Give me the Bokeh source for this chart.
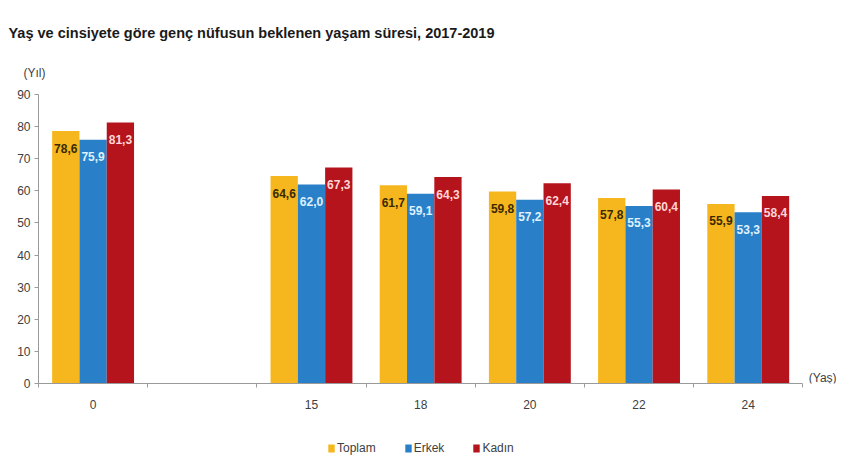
from bokeh.plotting import figure
from bokeh.layouts import column
from bokeh.models import (Range1d, LinearAxis, FixedTicker, ColumnDataSource, Legend, LegendItem, Title)
from bokeh.core.properties import value
from bokeh.embed import file_html
from bokeh.resources import INLINE

# ---- data ----
title_text = "Yaş ve cinsiyete göre genç nüfusun beklenen yaşam süresi, 2017-2019"
y_unit = "(Yıl)"
x_unit = "(Yaş)"
ages = ["0", "15", "18", "20", "22", "24"]
factors = ["0", "", "15", "18", "20", "22", "24"]   # blank slot between 0 and 15
series_names = ["Toplam", "Erkek", "Kadın"]
toplam = [78.6, 64.6, 61.7, 59.8, 57.8, 55.9]
erkek = [75.9, 62.0, 59.1, 57.2, 55.3, 53.3]
kadin = [81.3, 67.3, 64.3, 62.4, 60.4, 58.4]
y_ticks = list(range(0, 100, 10))

colors = ["#F6B71E", "#2A80C8", "#B5141C"]
label_colors = ["#3a2a00", "#dff0ff", "#ffd6d6"]
FONT = "Liberation Sans"
GREY = "#404040"
AXIS = "#9a9a9a"
W = 850


def fmt(v):
    return f"{v:.1f}".replace(".", ",")


def bare(fig):
    fig.outline_line_color = None
    fig.xgrid.grid_line_color = None
    fig.ygrid.grid_line_color = None
    fig.background_fill_color = "white"
    fig.border_fill_color = "white"


n_slots = len(factors)
centres = [factors.index(a) + 0.5 for a in ages]

# ---------- header strip: title and y unit (as plot titles) ----------
top = figure(width=W, height=86, x_range=Range1d(0, 1), y_range=Range1d(0, 1),
             output_backend="svg", toolbar_location=None,
             x_axis_location=None, y_axis_location=None,
             min_border_left=38, min_border_right=4, min_border_top=80, min_border_bottom=0)
bare(top)
top.title = Title(text=title_text, align="left", offset=-30, standoff=43,
                  text_font=FONT, text_font_size="14.5px", text_font_style="bold",
                  text_color="#1a1a1a")
top.add_layout(Title(text=y_unit, align="left", offset=-15, standoff=2,
                     text_font=FONT, text_font_size="12px", text_font_style="normal",
                     text_color=GREY), "above")

# ---------- main chart ----------
p = figure(width=W, height=331, x_range=Range1d(0, n_slots + 0.4),
           y_range=Range1d(0, 90), output_backend="svg", toolbar_location=None,
           x_axis_location=None, y_axis_location=None,
           min_border_left=38, min_border_right=4, min_border_top=8, min_border_bottom=34)
bare(p)
p.title.text_font_size = "0px"
p.title.standoff = 0

yaxis = LinearAxis(ticker=FixedTicker(ticks=y_ticks))
yaxis.axis_line_color = AXIS
yaxis.major_tick_line_color = AXIS
yaxis.major_tick_out = 4
yaxis.major_tick_in = 0
yaxis.minor_tick_line_color = None
yaxis.major_label_standoff = 4
yaxis.major_label_text_font = FONT
yaxis.major_label_text_font_size = "12px"
yaxis.major_label_text_color = GREY
p.add_layout(yaxis, "left")

# x axis: ticks at slot boundaries
tick_axis = LinearAxis(ticker=FixedTicker(ticks=list(range(n_slots + 1))), bounds=(0, n_slots))
tick_axis.axis_line_color = AXIS
tick_axis.major_tick_line_color = AXIS
tick_axis.major_tick_out = 4
tick_axis.major_tick_in = 0
tick_axis.minor_tick_line_color = None
tick_axis.major_label_text_font_size = "0px"
tick_axis.major_label_standoff = 0
p.add_layout(tick_axis, "below")

# x axis: category labels at slot centres
slot_centres = [i + 0.5 for i in range(n_slots)]
cat_axis = LinearAxis(ticker=FixedTicker(ticks=slot_centres),
                      major_label_overrides={c: f for c, f in zip(slot_centres, factors)})
cat_axis.axis_line_color = None
cat_axis.major_tick_line_color = None
cat_axis.minor_tick_line_color = None
cat_axis.major_tick_out = 0
cat_axis.major_tick_in = 0
cat_axis.major_label_standoff = 12
cat_axis.major_label_text_font = FONT
cat_axis.major_label_text_font_size = "12px"
cat_axis.major_label_text_color = GREY
p.add_layout(cat_axis, "below")

series = [toplam, erkek, kadin]
offsets = [-0.25, 0.0, 0.25]
for vals, off, c, lc in zip(series, offsets, colors, label_colors):
    src = ColumnDataSource(dict(x=[cx + off for cx in centres], top=vals,
                                lab=[fmt(v) for v in vals]))
    p.vbar(x="x", top="top", width=0.25, source=src, fill_color=c, line_color=None)
    p.text(x="x", y="top", text="lab", source=src,
           text_align="center", text_baseline="middle", y_offset=17,
           text_font=value(FONT), text_font_size="12px",
           text_font_style="bold", text_color=lc)

# x unit at the end of the axis line
p.text(x=[n_slots + 0.055], y=[0], text=[x_unit], text_align="left", text_baseline="bottom",
       y_offset=1, text_font=value(FONT), text_font_size="12px", text_color=GREY)

# ---------- legend strip ----------
leg = figure(width=W, height=50, x_range=Range1d(0, 1), y_range=Range1d(0, 1),
             output_backend="svg", toolbar_location=None,
             x_axis_location=None, y_axis_location=None,
             min_border_left=38, min_border_right=4, min_border_top=0, min_border_bottom=0)
bare(leg)
leg.title.text_font_size = "0px"
leg.title.standoff = 0
# zero-height swatch renderers: they only lend their colours to the legend
swatches = [leg.vbar(x=[0.5], top=[0], bottom=[0], width=0.1, fill_color=c, line_color=None)
            for c in colors]
legend = Legend(items=[LegendItem(label=n, renderers=[r]) for n, r in zip(series_names, swatches)],
                orientation="horizontal", location=(289, 12))
legend.glyph_width = 8
legend.glyph_height = 10
legend.label_height = 14
legend.label_standoff = 2
legend.spacing = 28
legend.padding = 0
legend.margin = 0
legend.border_line_color = None
legend.background_fill_alpha = 0
legend.label_text_font = FONT
legend.label_text_font_size = "12px"
legend.label_text_color = GREY
leg.add_layout(legend)

layout = column(top, p, leg, spacing=0)
open("out.html", "w").write(file_html(layout, INLINE))
